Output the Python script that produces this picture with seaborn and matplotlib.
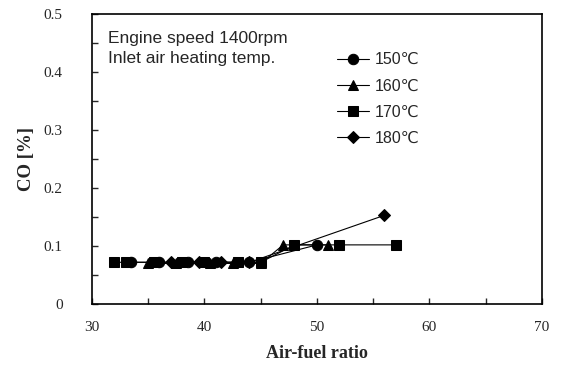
import numpy as np
import pandas as pd
import matplotlib
matplotlib.use("Agg")
import matplotlib.pyplot as plt
import matplotlib.ticker as mticker
import seaborn as sns

# air-fuel ratio and CO values
afr_150 = [33.5, 36, 38.5, 41, 44, 50]
co_150 = [0.072, 0.072, 0.072, 0.072, 0.072, 0.102]

afr_160 = [35, 37.5, 40.5, 42.5, 45, 47, 51]
co_160 = [0.070, 0.070, 0.070, 0.070, 0.070, 0.102, 0.102]

afr_170 = [32, 33, 35.5, 38, 40, 43, 45, 48, 52, 57]
co_170 = [0.072, 0.072, 0.072, 0.072, 0.072, 0.072, 0.072, 0.102, 0.102, 0.102]

afr_180 = [37, 39.5, 41.5, 44, 56]
co_180 = [0.072, 0.072, 0.072, 0.072, 0.153]

labels = ["150\u2103", "160\u2103", "170\u2103", "180\u2103"]
markers = ["o", "^", "s", "D"]

series = [(afr_150, co_150), (afr_160, co_160), (afr_170, co_170), (afr_180, co_180)]

sns.set_style("white")
plt.rcParams['font.family'] = ['Liberation Serif', 'DejaVu Serif']

fig = plt.figure(figsize=(5.62, 3.65), dpi=100)
ax = fig.add_axes([0.1637, 0.167, 0.8007, 0.7946])

for (x, y), lab, mk in zip(series, labels, markers):
    df = pd.DataFrame({'afr': x, 'co': y})
    ms = 6.5 if mk == "D" else 7.5
    sns.lineplot(data=df, x='afr', y='co', ax=ax, color='black', linewidth=0.8,
                 marker=mk, markersize=ms, markeredgecolor='black',
                 label=lab, sort=False, estimator=None)

ax.set_xlim(30, 70)
ax.set_ylim(0, 0.5)
ax.xaxis.set_major_locator(mticker.MultipleLocator(10))
ax.xaxis.set_minor_locator(mticker.MultipleLocator(5))
ax.yaxis.set_major_locator(mticker.MultipleLocator(0.1))
ax.yaxis.set_minor_locator(mticker.MultipleLocator(0.05))
ax.yaxis.set_major_formatter(mticker.FuncFormatter(lambda v, p: "0" if v == 0 else f"{v:.1f}"))
ax.tick_params(which='both', direction='in', length=4, width=1, labelsize=11,
               bottom=True, left=True, top=False, right=False)
ax.tick_params(axis='x', pad=12)
ax.tick_params(axis='y', pad=21)
for sp in ax.spines.values():
    sp.set_color('black')
    sp.set_linewidth(1.2)

ax.set_xlabel('Air-fuel ratio', fontsize=13, fontweight='bold', labelpad=8)
ax.set_ylabel('CO [%]', fontsize=13.5, fontweight='bold', labelpad=6)

sans = ['Liberation Sans', 'DejaVu Sans']
ax.text(0.035, 0.915, 'Engine speed 1400rpm', transform=ax.transAxes,
        fontsize=12.5, family=sans, va='center')
ax.text(0.035, 0.845, 'Inlet air heating temp.', transform=ax.transAxes,
        fontsize=12.5, family=sans, va='center')

leg = ax.legend(loc='upper left', bbox_to_anchor=(0.544, 0.868), frameon=False,
                borderpad=0, borderaxespad=0, handlelength=2.0, handletextpad=0.4,
                labelspacing=0.7, prop={'family': sans, 'size': 11.5})

fig.savefig('out.png', dpi=100)
